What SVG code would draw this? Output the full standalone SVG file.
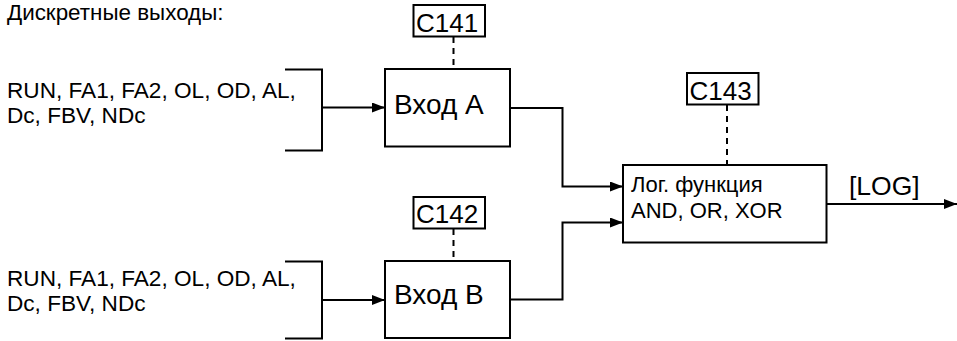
<svg xmlns="http://www.w3.org/2000/svg" width="957" height="341" viewBox="0 0 957 341">
<style>
text{font-family:"Liberation Sans",Arial,sans-serif;fill:#000}
.box{fill:#fff;stroke:#000;stroke-width:2}
.ln{fill:none;stroke:#000;stroke-width:2}
.dash{fill:none;stroke:#000;stroke-width:2;stroke-dasharray:6 5}
.t22{font-size:22px}
.lst{font-size:22.6px}
.t26{font-size:26px}
.t28{font-size:28px}
</style>
<defs>
<marker id="arr" markerUnits="userSpaceOnUse" markerWidth="14" markerHeight="10" refX="13" refY="5" orient="auto">
<path d="M0,0 L13,5 L0,10 z" fill="#000"/>
</marker>
</defs>
<text id="title" x="7" y="20" font-size="22.4">Дискретные выходы:</text>
<g id="inputsA">
<text class="lst" x="7" y="98">RUN, FA1, FA2, OL, OD, AL,</text>
<text class="lst" x="7" y="123">Dc, FBV, NDc</text>
<path class="ln" d="M285,69.5 H322 V150.5 H285"/>
</g>
<g id="inputsB">
<text class="lst" x="7" y="286">RUN, FA1, FA2, OL, OD, AL,</text>
<text class="lst" x="7" y="311">Dc, FBV, NDc</text>
<path class="ln" d="M285,261.5 H322 V338.5 H285"/>
</g>
<g id="C141">
<rect class="box" x="413.5" y="5" width="71.5" height="31.5"/>
<text class="t26" x="416" y="32">C141</text>
</g>
<g id="C142">
<rect class="box" x="413.5" y="197" width="71.5" height="31.5"/>
<text class="t26" x="416" y="223">C142</text>
</g>
<g id="C143">
<rect class="box" x="687" y="73" width="71.5" height="31.5"/>
<text class="t26" x="689.5" y="100">C143</text>
</g>
<g id="inA">
<rect class="box" x="385" y="69" width="125" height="77.5"/>
<text class="t28" x="394" y="113.5">Вход A</text>
</g>
<g id="inB">
<rect class="box" x="385" y="261" width="125" height="77"/>
<text class="t28" x="394" y="304">Вход B</text>
</g>
<g id="logic">
<rect class="box" x="623" y="165" width="203.5" height="77.5"/>
<text class="t22" x="631" y="192">Лог. функция</text>
<text class="t22" x="631" y="218">AND, OR, XOR</text>
</g>
<text id="out-label" x="849" y="195" font-size="26.5">[LOG]</text>
<g id="connectors">
<path class="ln" d="M322,107.5 H385" marker-end="url(#arr)"/>
<path class="ln" d="M322,300 H385" marker-end="url(#arr)"/>
<path class="ln" d="M510,108 H562.5 V186.5 H623" marker-end="url(#arr)"/>
<path class="ln" d="M510,299.5 H562.5 V222.5 H623" marker-end="url(#arr)"/>
<path class="ln" d="M826.5,204 H957" marker-end="url(#arr)"/>
<path class="dash" d="M453.5,37 V69"/>
<path class="dash" d="M453.5,229 V261"/>
<path class="dash" d="M727,105 V165"/>
</g>
</svg>
